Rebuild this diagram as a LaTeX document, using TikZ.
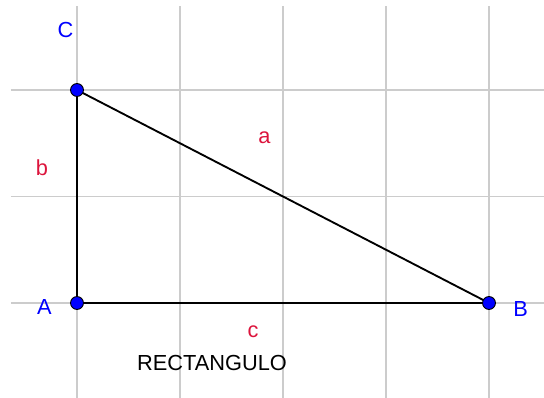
\documentclass[tikz,border=0pt]{standalone}
\usepackage{fontspec}
\setmainfont{Liberation Sans}
\definecolor{ptblue}{RGB}{0,0,255}
\definecolor{segred}{RGB}{220,20,60}
\begin{document}
\begin{tikzpicture}[x=3.09cm, y=3.195cm,
  every node/.style={font=\fontsize{18.6}{20}\selectfont},
  ptlabel/.style={text=ptblue},
  seglabel/.style={text=segred}]
  \useasboundingbox (-0.7476,-0.892) rectangle (4.534,2.845);
  % Quadrillage
  \foreach \i in {0,...,4}
    \draw[gray!40, line width=1pt] (\i,-0.892) -- (\i,2.79);
  \foreach \j in {0,1,2}
    \draw[gray!40, line width=1pt] (-0.641,\j) -- (4.534,\j);

  % Sommets du triangle
  \coordinate (A) at (0,0);
  \coordinate (B) at (4,0);
  \coordinate (C) at (0,2);

  % Cotes
  \draw[black, line width=1.6pt] (A) -- (B) -- (C) -- cycle;

  % Points
  \foreach \p in {A,B,C}
    \filldraw[fill=ptblue, draw=black, line width=0.8pt] (\p) circle (5.5pt);

  % Noms des points
  \node[ptlabel] (nA) at (-0.316,-0.033) {A};
  \node[ptlabel] (nB) at (4.306,-0.056) {B};
  \node[ptlabel] (nC) at (-0.112,2.568) {C};

  % Noms des cotes
  \node[seglabel] (na) at (1.820,1.554) {a};
  \node[seglabel] (nb) at (-0.340,1.268) {b};
  \node[seglabel] (nc) at (1.709,-0.272) {c};

  \node (titre) at (1.311,-0.559) {RECTANGULO};
\end{tikzpicture}
\end{document}
